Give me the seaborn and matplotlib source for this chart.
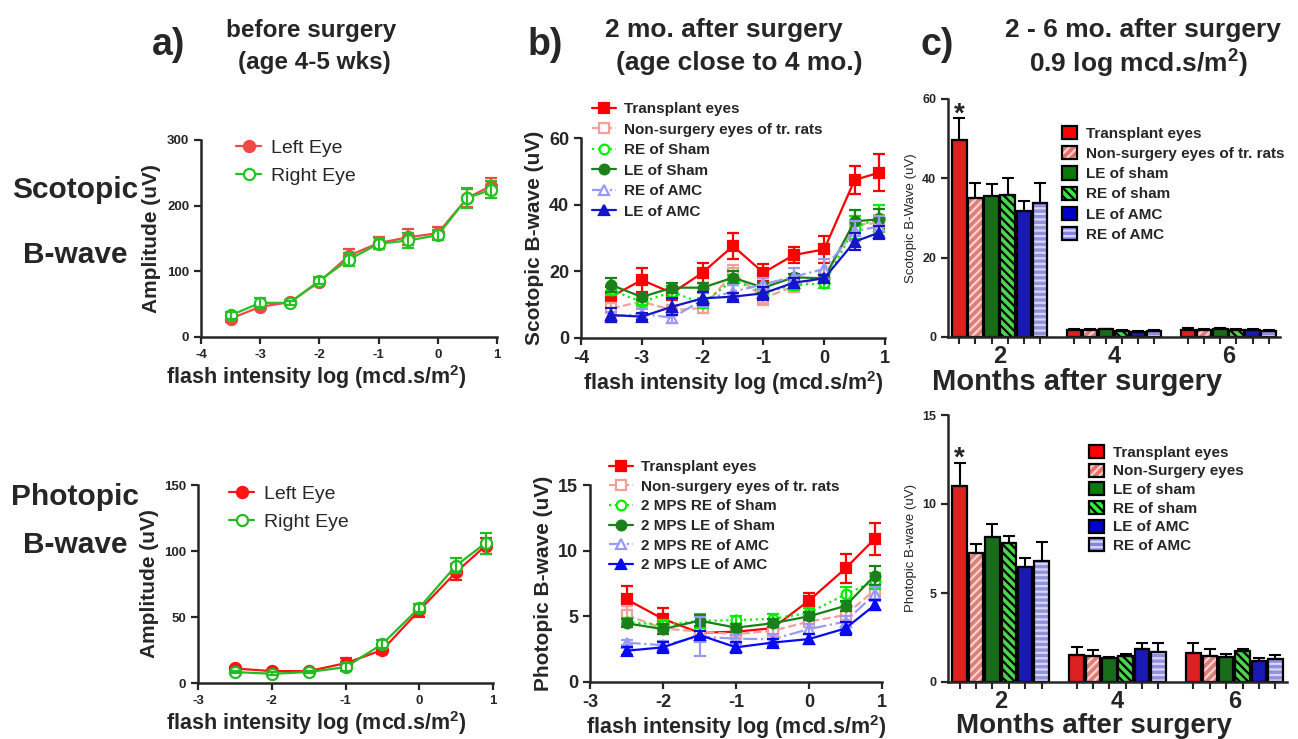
import matplotlib
matplotlib.use('Agg')
import matplotlib.pyplot as plt
from matplotlib import font_manager
from matplotlib.patches import Patch, Rectangle
from matplotlib.container import BarContainer
import pandas as pd
import seaborn as sns

# x positions (log flash intensity)
scot_x = [-3.5, -3, -2.5, -2, -1.5, -1, -0.5, 0, 0.5, 0.9]
phot_x = [-2.5, -2, -1.5, -1, -0.5, 0, 0.5, 0.9]

# a) before surgery
pre_scot_left = [28, 46, 53, 84, 124, 143, 152, 158, 212, 230]
pre_scot_left_err = [5, 4, 3, 6, 10, 9, 12, 9, 14, 12]
pre_scot_right = [33, 52, 52, 86, 118, 142, 147, 155, 212, 224]
pre_scot_right_err = [5, 7, 3, 6, 10, 8, 12, 8, 15, 13]
pre_phot_left = [11, 9, 9, 15, 25, 55, 84, 104]
pre_phot_left_err = [1, 1, 1, 4, 3, 5, 6, 6]
pre_phot_right = [8.3, 7, 8.3, 12, 29.5, 57, 89, 106]
pre_phot_right_err = [1, 1, 1, 3, 3, 3, 6, 8]

# b) 2 months after surgery - scotopic
scot_transplant = [12.4, 17.4, 13.5, 19.6, 27.6, 19.6, 24.9, 26.6, 47.4, 49.6]
scot_transplant_err = [3, 3.5, 2, 3, 4, 2.5, 2.5, 4, 4.2, 5.5]
scot_nonsurg = [8.9, 10.9, 8.4, 9.0, 19.5, 12.0, 15.4, 18.5, 34, 34.5]
scot_nonsurg_err = [1.5, 1, 1.5, 1.5, 2.5, 2, 1.5, 2, 2.5, 2.5]
scot_re_sham = [14.4, 10.8, 13.8, 10.4, 17.4, 13.6, 15.9, 16.4, 33.1, 35.9]
scot_re_sham_err = [1.5, 1, 1.5, 1.5, 1.5, 1.5, 1.5, 1.5, 3.5, 4]
scot_le_sham = [15.9, 12.3, 15.1, 15.1, 18.1, 15.1, 18.2, 17.9, 35, 35.6]
scot_le_sham_err = [2, 1, 1.5, 1.5, 2, 1.5, 1, 1, 3.5, 3]
scot_re_amc = [6.4, 7.2, 6.1, 11.4, 13.9, 16.1, 18.4, 20.7, 32, 33.5]
scot_re_amc_err = [1.5, 1.5, 1.5, 2, 2, 2, 2.5, 3, 3, 3]
scot_le_amc = [6.9, 6.4, 9.4, 11.9, 12.4, 13.4, 16.6, 17.9, 28.9, 31.6]
scot_le_amc_err = [2, 1, 2.5, 2, 1, 2, 1.5, 1, 2.5, 2]

# b) 2 months after surgery - photopic
phot_transplant = [6.3, 4.8, 3.75, 3.83, 4.1, 6.2, 8.65, 10.9]
phot_transplant_err = [1, 0.8, 0.3, 0.3, 0.3, 0.6, 1.1, 1.2]
phot_nonsurg = [5.1, 4.08, 3.83, 3.65, 3.9, 4.6, 5.1, 7.0]
phot_nonsurg_err = [0.7, 0.4, 0.3, 0.3, 0.4, 0.4, 0.5, 0.5]
phot_re_sham = [4.57, 4.34, 4.64, 4.72, 4.8, 5.27, 6.67, 7.7]
phot_re_sham_err = [0.3, 0.4, 0.5, 0.3, 0.4, 0.4, 0.6, 0.6]
phot_le_sham = [4.47, 4.03, 4.67, 4.14, 4.47, 5.0, 5.8, 8.1]
phot_le_sham_err = [0.3, 0.4, 0.4, 0.3, 0.3, 0.3, 0.4, 0.7]
phot_re_amc = [3.0, 2.8, 3.45, 3.3, 3.25, 4.03, 4.6, 6.7]
phot_re_amc_err = [0.2, 0.3, 1.5, 0.3, 0.4, 0.4, 0.4, 0.5]
phot_le_amc = [2.38, 2.64, 3.58, 2.64, 3.0, 3.27, 4.08, 5.86]
phot_le_amc_err = [0.3, 0.4, 0.3, 0.4, 0.3, 0.4, 0.5, 0.4]

# c) 0.9 log mcd.s/m2, 2 - 6 months after surgery
months = ['2', '4', '6']
bar_groups = ['Transplant eyes', 'Non-surgery eyes', 'LE of sham', 'RE of sham', 'LE of AMC', 'RE of AMC']
bar_scot = {'2': [49.6, 35.1, 35.6, 35.8, 31.8, 33.9],
            '4': [1.8, 1.7, 1.9, 1.6, 1.2, 1.6],
            '6': [1.8, 1.7, 2.0, 1.8, 1.7, 1.5]}
bar_scot_err = {'2': [5.5, 3.8, 2.9, 4.2, 2.5, 4.8],
                '4': [0.2, 0.2, 0.2, 0.2, 0.2, 0.2],
                '6': [0.4, 0.2, 0.2, 0.2, 0.2, 0.2]}
bar_phot = {'2': [11.03, 7.23, 8.17, 7.79, 6.48, 6.82],
            '4': [1.52, 1.46, 1.37, 1.46, 1.84, 1.7],
            '6': [1.65, 1.48, 1.42, 1.76, 1.18, 1.29]}
bar_phot_err = {'2': [1.3, 0.55, 0.7, 0.43, 0.47, 1.06],
                '4': [0.46, 0.35, 0.05, 0.1, 0.33, 0.5],
                '6': [0.52, 0.4, 0.13, 0.08, 0.15, 0.2]}
bar_legend_scot = ['Transplant eyes', 'Non-surgery eyes of tr. rats', 'LE of sham', 'RE of sham', 'LE of AMC', 'RE of AMC']
bar_legend_phot = ['Transplant eyes', 'Non-Surgery eyes', 'LE of sham', 'RE of sham', 'LE of AMC', 'RE of AMC']

sns.set_style('ticks')
plt.rcParams['font.family'] = ['Liberation Sans', 'DejaVu Sans']
plt.rcParams['axes.unicode_minus'] = False
plt.rcParams['hatch.linewidth'] = 1.6
plt.rcParams['mathtext.fontset'] = 'custom'
plt.rcParams['mathtext.bf'] = 'Liberation Sans:bold'
plt.rcParams['mathtext.rm'] = 'Liberation Sans'

# titles in the original use a narrow bold face
installed = {f.name for f in font_manager.fontManager.ttflist}
if 'Liberation Sans Narrow' in installed:
    title_family, size_a, size_bc = 'Liberation Sans Narrow', 21, 23
else:
    title_family, size_a, size_bc = 'Liberation Sans', 17.5, 19

W, H = 1298, 739
fig = plt.figure(figsize=(W / 100, H / 100), dpi=100)


def px_axes(x0, x1, y_top, y_bot):
    return fig.add_axes([x0 / W, 1 - y_bot / H, (x1 - x0) / W, (y_bot - y_top) / H])


def style_axis(ax, xsize, ysize):
    sns.despine(ax=ax)
    for s in ['left', 'bottom']:
        ax.spines[s].set_linewidth(1.8)
    ax.tick_params(axis='both', width=1.6, length=5, direction='out')
    ax.tick_params(axis='x', labelsize=xsize)
    ax.tick_params(axis='y', labelsize=ysize)
    for lab in ax.get_xticklabels() + ax.get_yticklabels():
        lab.set_fontweight('bold')


def line_series(ax, xs, vals, errs, color, marker, filled, ls, label, ms=7):
    sns.lineplot(x=xs, y=vals, ax=ax, color=color, marker=marker, markersize=ms,
                 markerfacecolor=color if filled else 'white', markeredgecolor=color,
                 markeredgewidth=1.6, linestyle=ls, linewidth=1.6, label=label)
    ax.errorbar(xs, vals, yerr=errs, fmt='none', ecolor=color, elinewidth=1.6,
                capsize=4, capthick=1.6)


def line_legend(ax, anchor, size, spacing, weight='bold', hl=1.6):
    ax.legend(loc='upper left', bbox_to_anchor=(anchor[0] / W, 1 - anchor[1] / H),
              bbox_transform=fig.transFigure, frameon=False, borderpad=0, borderaxespad=0,
              prop={'size': size, 'weight': weight}, labelspacing=spacing,
              handlelength=hl, handletextpad=0.5)


xlabel_txt = 'flash intensity log (mcd.s/m$\\mathbf{^2}$)'

# ---- a) top ----
ax = px_axes(201, 497, 140, 337)
line_series(ax, scot_x, pre_scot_left, pre_scot_left_err, '#F04848', 'o', True, '-', 'Left Eye', ms=8)
line_series(ax, scot_x, pre_scot_right, pre_scot_right_err, '#22C422', 'o', False, '-', 'Right Eye', ms=8)
ax.set_xlim(-4, 1)
ax.set_ylim(0, 300)
ax.set_xticks([-4, -3, -2, -1, 0, 1])
ax.set_yticks([0, 100, 200, 300])
ax.set_ylabel('Amplitude (uV)', fontsize=15, fontweight='bold')
ax.set_xlabel(xlabel_txt, fontsize=15.5, fontweight='bold', labelpad=2)
ax.xaxis.label.set_x(0.39)
style_axis(ax, 9.5, 9.5)
line_legend(ax, (236, 139), 14, 0.55, weight='normal', hl=1.3)

# ---- a) bottom ----
ax = px_axes(198, 493, 485, 683)
line_series(ax, phot_x, pre_phot_left, pre_phot_left_err, '#FF1414', 'o', True, '-', 'Left Eye', ms=8)
line_series(ax, phot_x, pre_phot_right, pre_phot_right_err, '#22BB22', 'o', False, '-', 'Right Eye', ms=8)
ax.set_xlim(-3, 1)
ax.set_ylim(0, 150)
ax.set_xticks([-3, -2, -1, 0, 1])
ax.set_yticks([0, 50, 100, 150])
ax.set_ylabel('Amplitude (uV)', fontsize=15, fontweight='bold')
ax.set_xlabel(xlabel_txt, fontsize=15.5, fontweight='bold', labelpad=2)
ax.xaxis.label.set_x(0.40)
style_axis(ax, 9.5, 9.5)
line_legend(ax, (229, 485), 14, 0.55, weight='normal', hl=1.3)

# ---- b) top ----
ax = px_axes(581, 885, 138, 338)
scot_series = [
    (scot_transplant, scot_transplant_err, '#FF0000', 's', True, '-', 'Transplant eyes'),
    (scot_nonsurg, scot_nonsurg_err, '#F4A09A', 's', False, '--', 'Non-surgery eyes of tr. rats'),
    (scot_re_sham, scot_re_sham_err, '#00F000', 'o', False, ':', 'RE of Sham'),
    (scot_le_sham, scot_le_sham_err, '#1A801A', 'o', True, '-', 'LE of Sham'),
    (scot_re_amc, scot_re_amc_err, '#9A9AF4', '^', False, '-.', 'RE of AMC'),
    (scot_le_amc, scot_le_amc_err, '#1414C8', '^', True, '-', 'LE of AMC'),
]
for vals, errs, c, m, f, ls, lab in scot_series:
    line_series(ax, scot_x, vals, errs, c, m, f, ls, lab)
ax.set_xlim(-4, 1)
ax.set_ylim(0, 60)
ax.set_xticks([-4, -3, -2, -1, 0, 1])
ax.set_yticks([0, 20, 40, 60])
ax.set_ylabel('Scotopic B-wave (uV)', fontsize=15, fontweight='bold')
ax.set_xlabel(xlabel_txt, fontsize=15.5, fontweight='bold', labelpad=2)
style_axis(ax, 13, 13)
line_legend(ax, (592, 102), 11, 0.43)

# ---- b) bottom ----
ax = px_axes(590, 882, 485, 682)
phot_series = [
    (phot_transplant, phot_transplant_err, '#FF0000', 's', True, '-', 'Transplant eyes'),
    (phot_nonsurg, phot_nonsurg_err, '#F4A09A', 's', False, '--', 'Non-surgery eyes of tr. rats'),
    (phot_re_sham, phot_re_sham_err, '#00F000', 'o', False, ':', '2 MPS RE of Sham'),
    (phot_le_sham, phot_le_sham_err, '#1A801A', 'o', True, '-', '2 MPS LE of Sham'),
    (phot_re_amc, phot_re_amc_err, '#9A9AF4', '^', False, '-.', '2 MPS RE of AMC'),
    (phot_le_amc, phot_le_amc_err, '#0A0AF0', '^', True, '-', '2 MPS LE of AMC'),
]
for vals, errs, c, m, f, ls, lab in phot_series:
    line_series(ax, phot_x, vals, errs, c, m, f, ls, lab)
ax.set_xlim(-3, 1)
ax.set_ylim(0, 15)
ax.set_xticks([-3, -2, -1, 0, 1])
ax.set_yticks([0, 5, 10, 15])
ax.set_ylabel('Photopic B-wave (uV)', fontsize=15, fontweight='bold')
ax.set_xlabel(xlabel_txt, fontsize=15.5, fontweight='bold', labelpad=2)
style_axis(ax, 13, 13)
line_legend(ax, (609, 460), 11, 0.37)

# ---- c) bars ----
bar_colors = ['#FF0000', '#EC6F68', '#0B7A0B', '#33EE33', '#0000CC', '#8585E8']
bar_hatch = [None, '////', None, '\\\\\\\\', None, '---']
hatch_col = [None, '#FBD3CF', None, 'black', None, '#D6D6FA']


def bar_panel(ax, vals, errs, ylim, yticks, ylabel, legend_labels, anchor, spacing, xl_size, xl_x):
    df = pd.DataFrame({'month': [m for m in months for _ in bar_groups],
                       'group': [g for _ in months for g in bar_groups],
                       'value': [v for m in months for v in vals[m]]})
    sns.barplot(data=df, x='month', y='value', hue='group', order=months, hue_order=bar_groups,
                palette=bar_colors, width=0.84, gap=0.12, edgecolor='black', linewidth=1.6,
                errorbar=None, legend=False, ax=ax)
    bar_conts = [c for c in ax.containers if isinstance(c, BarContainer)]
    centers = []
    for i, cont in enumerate(bar_conts):
        for j, p in enumerate(cont.patches):
            cx = p.get_x() + p.get_width() / 2
            centers.append(cx)
            top = p.get_height()
            if bar_hatch[i]:
                p.set_hatch(bar_hatch[i])
                if hatch_col[i] != 'black':
                    p.set_edgecolor(hatch_col[i])
                    p.set_linewidth(0)
                    ax.add_patch(Rectangle((p.get_x(), 0), p.get_width(), top, fill=False,
                                           edgecolor='black', linewidth=1.6, zorder=p.get_zorder() + 0.1))
            e = errs[months[j]][i]
            ax.errorbar([cx], [top], yerr=[[0], [e]], fmt='none', ecolor='black',
                        elinewidth=1.5, capsize=4, capthick=1.5, zorder=1)
            if i == 0 and j == 0:
                ax.annotate('*', xy=(cx, top + e), xytext=(0, 3), textcoords='offset points',
                            ha='center', va='center', fontsize=20, fontweight='bold')
    ax.set_ylim(*ylim)
    ax.set_yticks(yticks)
    ax.set_xlim(-0.45, 2.45)
    ax.set_xticks(sorted(centers), minor=True)
    ax.tick_params(axis='x', which='minor', length=5, width=1.5)
    ax.set_ylabel(ylabel, fontsize=9.5)
    ax.set_xlabel('Months after surgery', fontsize=xl_size, fontweight='bold', labelpad=0)
    ax.xaxis.label.set_x(xl_x)
    style_axis(ax, 17, 9)
    ax.tick_params(axis='x', which='major', length=0, pad=6)
    handles = []
    for i in range(len(bar_groups)):
        if bar_hatch[i] and hatch_col[i] != 'black':
            handles.append((Patch(facecolor=bar_colors[i], hatch=bar_hatch[i], edgecolor=hatch_col[i], linewidth=0),
                            Patch(fill=False, edgecolor='black', linewidth=1.6)))
        else:
            handles.append(Patch(facecolor=bar_colors[i], hatch=bar_hatch[i], edgecolor='black', linewidth=1.6))
    ax.legend(handles, legend_labels, loc='upper left', bbox_to_anchor=(anchor[0] / W, 1 - anchor[1] / H),
              bbox_transform=fig.transFigure, frameon=False, borderpad=0, borderaxespad=0,
              prop={'size': 11, 'weight': 'bold'}, labelspacing=spacing,
              handlelength=0.95, handleheight=0.95, handletextpad=0.6)


ax = px_axes(948, 1280, 99, 337)
bar_panel(ax, bar_scot, bar_scot_err, (0, 60), [0, 20, 40, 60], 'Scotopic B-Wave (uV)',
          bar_legend_scot, (1062, 126), 0.35, 21, 0.39)
ax = px_axes(948, 1287, 415, 682)
bar_panel(ax, bar_phot, bar_phot_err, (0, 15), [0, 5, 10, 15], 'Photopic B-wave (uV)',
          bar_legend_phot, (1089, 445), 0.25, 20, 0.43)


# ---- titles and row labels ----
def ftext(x, y, s, size, family=None):
    fig.text(x / W, 1 - y / H, s, fontsize=size, fontweight='bold', ha='center', va='center',
             family=family or ['Liberation Sans', 'DejaVu Sans'])


ftext(169, 45, 'a)', 27, title_family)
ftext(311, 30, 'before surgery', size_a, title_family)
ftext(314, 63, '(age 4-5 wks)', size_a, title_family)
ftext(545, 45, 'b)', 27, title_family)
ftext(724, 30, '2 mo. after surgery', size_bc, title_family)
ftext(739, 63, '(age close to 4 mo.)', size_bc, title_family)
ftext(937, 45, 'c)', 27, title_family)
ftext(1143, 30, '2 - 6 mo. after surgery', size_bc, title_family)
ftext(1138, 64, '0.9 log mcd.s/m$\\mathbf{^2}$)', size_bc, title_family)
ftext(75, 190, 'Scotopic', 21.5)
ftext(75, 255, 'B-wave', 21.5)
ftext(75, 497, 'Photopic', 21.5)
ftext(75, 545, 'B-wave', 21.5)

fig.savefig('out.png', dpi=100)
